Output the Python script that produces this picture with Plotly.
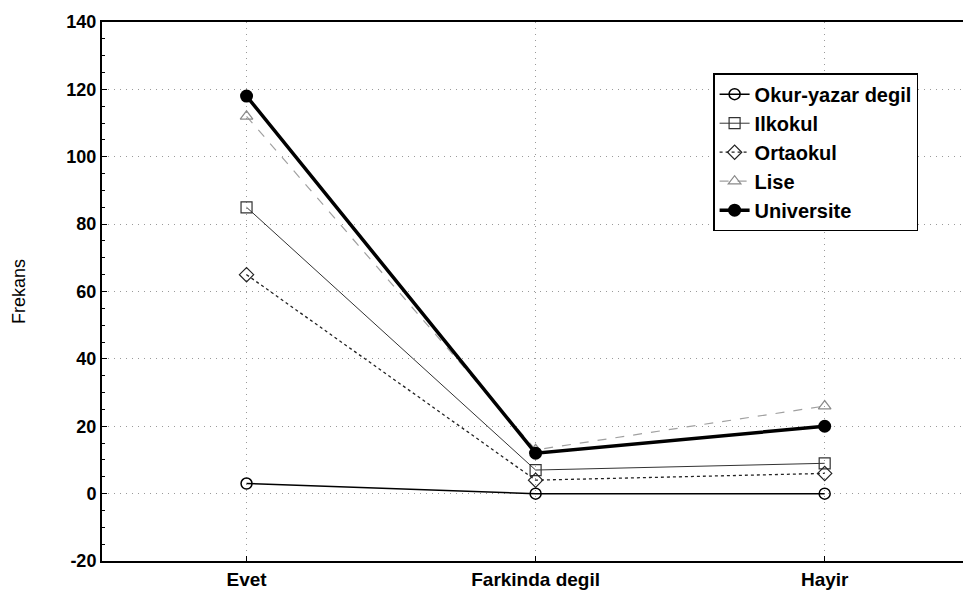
import plotly.graph_objects as go

# categorias e frequencias
cevaplar = ["Evet", "Farkinda degil", "Hayir"]
okur_yazar = [3, 0, 0]
ilkokul = [85, 7, 9]
ortaokul = [65, 4, 6]
lise = [112, 13, 26]
universite = [118, 12, 20]

# rotulos do eixo y (com hifen, como no original)
y_ticks = [-20, 0, 20, 40, 60, 80, 100, 120, 140]
y_labels = ["-20", "0", "20", "40", "60", "80", "100", "120", "140"]

fig = go.Figure()

series = [
    ("Okur-yazar degil", okur_yazar, dict(color="black", width=1.5, dash="solid"),
     dict(symbol="circle-open", size=11, color="black", line=dict(width=1.5))),
    ("Ilkokul", ilkokul, dict(color="#333333", width=1, dash="solid"),
     dict(symbol="square-open", size=11, color="#333333", line=dict(width=1.2))),
    ("Ortaokul", ortaokul, dict(color="#222222", width=1.3, dash="dot"),
     dict(symbol="diamond-open", size=11, color="#222222", line=dict(width=1.2))),
    ("Lise", lise, dict(color="#a0a0a0", width=1.2, dash="dash"),
     dict(symbol="triangle-up-open", size=11, color="#8a8a8a", line=dict(width=1.2))),
    ("Universite", universite, dict(color="black", width=3.5, dash="solid"),
     dict(symbol="circle", size=13, color="black")),
]

for ad, vals, ln, mk in series:
    fig.add_trace(go.Scatter(
        x=cevaplar, y=vals, name=ad, mode="lines+markers",
        line=ln, marker=mk,
    ))

grade = dict(showgrid=True, gridcolor="#9a9a9a", griddash="1px,5px", gridwidth=1)

fig.update_layout(
    width=971, height=592,
    margin=dict(l=94, r=4, t=14, b=39),
    plot_bgcolor="white", paper_bgcolor="white",
    font=dict(family="Liberation Sans, Arial", size=19, color="black"),
    showlegend=True,
    legend=dict(
        x=0.70, y=0.905, xanchor="left", yanchor="top",
        bordercolor="black", borderwidth=1.5, bgcolor="white",
        font=dict(size=20, weight="bold"), tracegroupgap=0, itemwidth=30,
    ),
    xaxis=dict(
        range=[-0.5, 2.52], showline=True, linecolor="black", linewidth=2,
        mirror=True, ticks="inside", ticklen=5, tickcolor="black",
        zeroline=False, automargin=False,
        tickfont=dict(size=19, weight="bold"), **grade,
    ),
    yaxis=dict(
        range=[-20, 140], tickvals=y_ticks, ticktext=y_labels,
        showline=True, linecolor="black", linewidth=2,
        mirror="ticks", ticks="inside", ticklen=5, tickcolor="black",
        zeroline=False, automargin=False,
        tickfont=dict(size=18, weight="bold"),
        minor=dict(dtick=5, ticks="inside", ticklen=3, tickcolor="black", showgrid=False),
        title=dict(text="Frekans", font=dict(size=18), standoff=36),
        **grade,
    ),
)

fig.write_html("out.html")
